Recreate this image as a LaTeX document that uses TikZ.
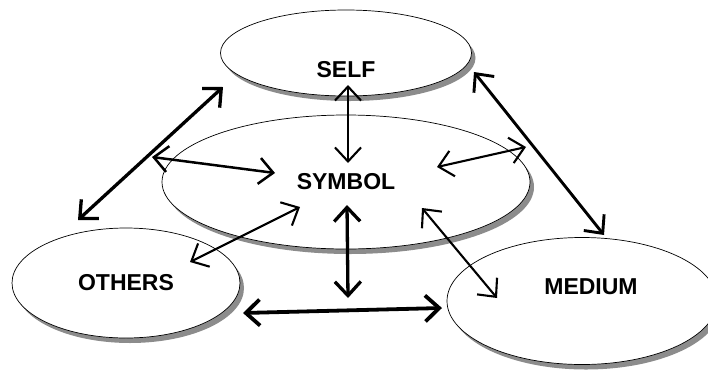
\documentclass[tikz,border=0pt]{standalone}
\usepackage{fontspec}
\setmainfont{Liberation Sans}
\usetikzlibrary{shapes.geometric,shadows,arrows.meta}
\begin{document}
\begin{tikzpicture}[x=1pt,y=-1pt,
  blob/.style={ellipse,draw,line width=0.7pt,fill=white,inner sep=0pt,
    font=\bfseries\fontsize{23}{27}\selectfont,
    drop shadow={shadow xshift=4pt,shadow yshift=-5pt,fill=black!50,opacity=0.9}},
  >={Straight Barb[length=14pt,width=26pt]},
  link/.style={<->,line width=2.1pt},
  bold link/.style={<->,line width=3.3pt}]
\useasboundingbox (0,0) rectangle (708,370);
\clip (0,0) rectangle (708,370);

\node[blob,minimum width=251pt,minimum height=86pt,
  label={[yshift=-17pt,font=\bfseries\fontsize{23}{27}\selectfont]center:SELF}] (self) at (346,53) {};
\node[blob,minimum width=368pt,minimum height=134pt] (symbol) at (346,182) {SYMBOL};
\node[blob,minimum width=228pt,minimum height=110pt] (others) at (126,283) {OTHERS};
\node[blob,minimum width=270pt,minimum height=127pt,
  label={[xshift=9pt,yshift=14pt,font=\bfseries\fontsize{23}{27}\selectfont]center:MEDIUM}] (medium) at (582,301) {};

\coordinate (os1) at (78,220);  \coordinate (os2) at (223,87);
\coordinate (ss1) at (348,85);  \coordinate (ss2) at (348,163);
\coordinate (sl1) at (152,157); \coordinate (sl2) at (275,173);
\coordinate (sr1) at (437,167); \coordinate (sr2) at (526,147);
\coordinate (sm1) at (474,72);  \coordinate (sm2) at (604,235);
\coordinate (oy1) at (190,262); \coordinate (oy2) at (300,207);
\coordinate (yd1) at (347,205); \coordinate (yd2) at (348,298);
\coordinate (ym1) at (422,208); \coordinate (ym2) at (497,298);
\coordinate (om1) at (243,313); \coordinate (om2) at (442,308);

\draw[bold link] (os1) -- (os2);
\draw[link] (ss1) -- (ss2);
\draw[link,line width=2.5pt] (sl1) -- (sl2);
\draw[link] (sr1) -- (sr2);
\draw[bold link,line width=2.9pt] (sm1) -- (sm2);
\draw[link] (oy1) -- (oy2);
\draw[bold link] (yd1) -- (yd2);
\draw[link] (ym1) -- (ym2);
\draw[bold link,line width=3.8pt] (om1) -- (om2);
\end{tikzpicture}
\end{document}
